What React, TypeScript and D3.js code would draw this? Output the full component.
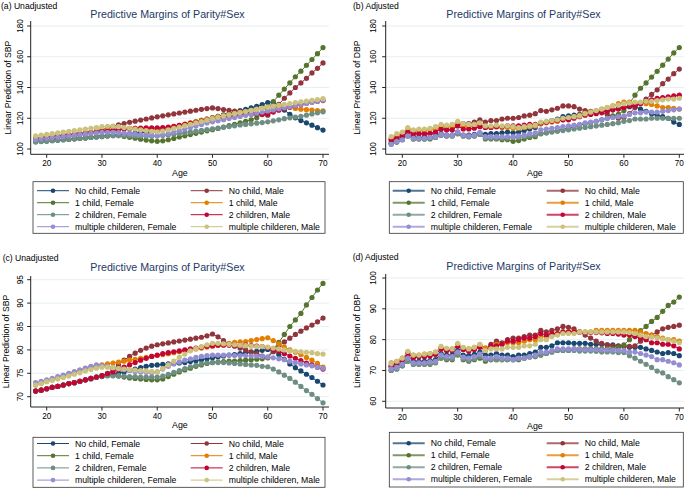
import React from 'react';
import * as d3 from 'd3';

const AGES = [18, 19, 20, 21, 22, 23, 24, 25, 26, 27, 28, 29, 30, 31, 32, 33, 34, 35, 36, 37, 38, 39, 40, 41, 42, 43, 44,
  45, 46, 47, 48, 49, 50, 51, 52, 53, 54, 55, 56, 57, 58, 59, 60, 61, 62, 63, 64, 65, 66, 67, 68, 69, 70];

const SERIES = ['No child, Female', 'No child, Male', '1 child, Female', '1 child, Male',
  '2 children, Female', '2 children, Male', 'multiple childeren, Female', 'multiple childeren, Male'];
const COLORS = ['#1a476f', '#90353b', '#55752f', '#e37e00', '#6e8e84', '#c10534', '#938dd2', '#cac27e'];

const X_TICKS = [20, 30, 40, 50, 60, 70];
const SBP_TICKS = [100, 120, 140, 160, 180];
const C_TICKS = [70, 75, 80, 85, 90, 95];
const D_TICKS = [60, 70, 80, 90, 100];

// (a) unadjusted
const A_NF = [105.0, 105.2, 105.4, 105.6, 105.8, 106.0, 106.3, 106.6, 106.9, 107.2,
  107.5, 107.8, 108.1, 108.5, 108.9, 109.3, 109.7, 110.0, 110.3, 110.6,
  110.9, 111.2, 111.5, 112.3, 113.2, 114.1, 115.0, 115.9, 116.8, 117.7,
  118.6, 119.5, 120.4, 121.3, 122.2, 123.1, 124.0, 124.9, 125.8, 126.8,
  127.8, 128.9, 130.2, 130.4, 128.0, 125.3, 122.6, 120.3, 118.5, 117.0,
  115.5, 113.9, 112.3];
const A_NM = [106.0, 106.4, 106.8, 107.2, 107.6, 108.0, 108.4, 108.9, 109.4, 110.0,
  110.7, 111.5, 112.5, 113.6, 114.7, 115.7, 116.6, 117.4, 118.1, 118.8,
  119.5, 120.2, 120.9, 121.6, 122.2, 122.8, 123.4, 124.0, 124.6, 125.2,
  125.8, 126.3, 126.7, 126.3, 125.7, 125.2, 124.7, 124.3, 123.9, 123.5,
  123.0, 122.4, 122.0, 125.0, 129.0, 133.0, 136.5, 140.0, 143.0, 146.0,
  149.5, 152.5, 156.0];
const A_1F = [104.8, 105.0, 105.2, 105.5, 105.8, 106.1, 106.4, 106.7, 107.0, 107.3,
  107.7, 108.1, 108.5, 108.8, 108.9, 108.7, 108.2, 107.6, 107.0, 106.4,
  105.8, 105.3, 105.0, 105.3, 106.0, 106.9, 107.8, 108.6, 109.4, 110.2,
  111.0, 111.8, 112.6, 113.4, 114.3, 115.2, 116.1, 117.0, 118.0, 119.0,
  120.3, 122.8, 126.2, 130.8, 135.0, 139.0, 143.0, 147.0, 150.6, 154.4,
  158.2, 162.0, 166.0];
const A_1M = [107.0, 107.5, 108.0, 108.4, 108.8, 109.2, 109.6, 110.0, 110.4, 110.8,
  111.2, 111.6, 112.0, 112.4, 112.8, 113.1, 113.3, 113.4, 113.4, 113.3,
  113.2, 113.1, 113.1, 113.4, 113.9, 114.6, 115.4, 116.2, 117.0, 117.8,
  118.6, 119.4, 120.2, 121.0, 121.7, 122.4, 123.1, 123.8, 124.5, 125.2,
  125.9, 126.6, 127.3, 127.8, 128.0, 127.6, 127.0, 126.4, 125.9, 125.6,
  125.3, 125.0, 124.8];
const A_2F = [104.5, 104.8, 105.1, 105.4, 105.7, 106.0, 106.3, 106.6, 106.9, 107.2,
  107.5, 107.8, 108.1, 108.4, 108.6, 108.7, 108.7, 108.6, 108.5, 108.4,
  108.3, 108.3, 108.4, 108.7, 109.1, 109.6, 110.1, 110.6, 111.1, 111.6,
  112.1, 112.6, 113.1, 113.6, 114.1, 114.6, 115.1, 115.6, 116.0, 116.4,
  116.8, 117.2, 117.7, 118.3, 119.0, 119.7, 120.3, 120.8, 121.3, 122.0,
  122.8, 123.5, 124.2];
const A_2M = [106.8, 107.1, 107.4, 107.8, 108.2, 108.6, 109.0, 109.4, 109.8, 110.2,
  110.6, 111.0, 111.4, 111.8, 112.2, 112.6, 113.0, 113.3, 113.5, 113.6,
  113.7, 113.7, 113.7, 113.9, 114.3, 114.8, 115.4, 116.0, 116.7, 117.4,
  118.1, 118.8, 119.5, 120.1, 120.7, 121.2, 121.7, 122.1, 122.4, 122.6,
  122.7, 122.8, 123.0, 124.0, 125.2, 126.3, 127.3, 128.2, 129.0, 129.8,
  130.5, 131.0, 131.5];
const A_MF = [106.2, 106.6, 107.0, 107.4, 107.8, 108.2, 108.6, 109.0, 109.4, 109.8,
  110.2, 110.5, 110.8, 110.9, 110.8, 110.6, 110.3, 110.0, 109.7, 109.4,
  109.1, 108.9, 108.8, 109.2, 110.0, 111.0, 112.0, 113.0, 114.0, 115.0,
  116.0, 116.9, 117.7, 118.4, 119.1, 119.8, 120.5, 121.2, 121.9, 122.6,
  123.3, 124.0, 124.7, 125.4, 126.1, 126.8, 127.5, 128.2, 128.9, 129.6,
  130.3, 131.0, 131.7];
const A_MM = [108.5, 109.0, 109.5, 110.0, 110.5, 111.0, 111.5, 112.0, 112.5, 113.0,
  113.5, 114.0, 114.5, 114.8, 114.8, 114.5, 114.0, 113.5, 113.0, 112.5,
  112.0, 111.5, 111.2, 111.7, 112.5, 113.4, 114.3, 115.2, 116.1, 117.0,
  117.9, 118.8, 119.7, 120.6, 121.4, 122.2, 123.0, 123.7, 124.4, 125.1,
  125.8, 126.5, 127.2, 127.8, 128.4, 129.0, 129.6, 130.2, 130.7, 131.2,
  131.7, 132.2, 132.7];

// (b) adjusted
const B_NF = [104.0, 105.5, 106.5, 109.0, 107.5, 107.5, 107.5, 107.5, 108.5, 110.0,
  109.0, 109.0, 111.0, 109.0, 109.0, 109.5, 110.5, 109.5, 110.0, 110.0,
  110.5, 111.0, 110.5, 111.0, 112.0, 113.0, 114.0, 116.5, 117.5, 118.5,
  119.5, 121.0, 121.5, 122.0, 122.5, 123.5, 123.5, 124.0, 124.5, 125.0,
  125.5, 126.5, 127.0, 127.5, 127.5, 126.0, 124.5, 123.0, 122.0, 121.0,
  120.0, 117.5, 116.0];
const B_NM = [106.0, 107.0, 108.5, 111.0, 110.0, 110.0, 110.0, 110.0, 111.0, 113.0,
  112.5, 112.5, 115.5, 116.5, 116.5, 117.5, 119.0, 117.5, 118.5, 118.5,
  119.5, 120.0, 120.0, 120.5, 121.5, 122.0, 123.0, 125.0, 124.5, 125.5,
  126.5, 128.0, 128.0, 127.5, 126.0, 125.0, 124.5, 124.0, 123.5, 122.5,
  121.0, 120.0, 120.5, 123.0, 127.0, 130.0, 132.5, 135.5, 138.5, 142.5,
  145.5, 149.0, 152.0];
const B_1F = [103.5, 104.5, 106.0, 108.5, 106.5, 106.5, 106.5, 106.5, 107.5, 109.0,
  108.5, 108.5, 110.0, 108.5, 108.0, 108.5, 109.5, 106.5, 106.5, 106.5,
  106.0, 106.0, 105.0, 105.5, 106.5, 107.5, 108.0, 110.0, 110.5, 111.5,
  112.0, 113.0, 113.5, 114.5, 115.5, 116.5, 117.0, 118.0, 119.0, 120.0,
  121.5, 122.5, 125.0, 129.5, 135.0, 139.5, 143.0, 146.8, 150.5, 154.5,
  158.5, 162.5, 166.0];
const B_1M = [107.0, 108.5, 110.0, 113.0, 111.5, 112.0, 112.0, 112.5, 113.5, 115.0,
  114.5, 114.5, 117.0, 115.0, 114.5, 115.0, 116.0, 114.0, 114.0, 114.5,
  114.0, 114.0, 113.5, 113.5, 114.0, 114.5, 115.0, 116.5, 117.0, 117.5,
  118.0, 119.0, 120.0, 121.0, 122.0, 123.0, 124.0, 125.0, 126.0, 127.0,
  128.0, 129.5, 130.5, 130.5, 130.0, 130.0, 129.5, 129.0, 128.0, 127.0,
  127.0, 126.5, 126.0];
const B_2F = [103.5, 104.5, 106.0, 108.5, 106.5, 106.5, 106.5, 107.0, 107.5, 109.0,
  108.5, 108.5, 110.0, 108.5, 108.0, 108.5, 109.5, 107.0, 107.0, 107.0,
  107.0, 107.0, 107.5, 107.5, 108.0, 108.5, 109.0, 110.0, 110.5, 111.0,
  111.5, 112.0, 112.5, 113.0, 113.5, 114.0, 114.5, 115.0, 115.5, 116.0,
  116.5, 117.0, 118.0, 118.5, 119.5, 119.5, 119.5, 120.0, 120.0, 120.0,
  120.0, 120.0, 120.0];
const B_2M = [106.0, 107.0, 108.5, 111.0, 110.0, 110.0, 110.0, 110.0, 111.0, 113.0,
  112.5, 112.5, 115.0, 113.0, 113.0, 113.5, 114.5, 114.0, 114.0, 114.5,
  114.5, 115.0, 115.0, 115.0, 115.5, 116.0, 116.0, 117.0, 117.5, 118.0,
  118.5, 119.0, 119.0, 120.0, 121.0, 122.0, 122.5, 123.0, 124.0, 124.5,
  125.5, 126.0, 127.0, 128.0, 128.5, 129.5, 131.0, 132.0, 133.0, 133.5,
  134.0, 134.5, 135.0];
const B_MF = [103.0, 105.0, 106.0, 108.5, 107.0, 107.0, 107.0, 107.5, 108.0, 109.5,
  109.0, 109.0, 111.0, 109.0, 108.5, 109.0, 110.5, 108.0, 108.0, 108.0,
  108.0, 108.0, 108.0, 108.5, 109.0, 110.0, 110.5, 112.5, 113.0, 113.5,
  114.0, 114.5, 115.0, 115.5, 116.0, 117.0, 117.5, 118.0, 119.0, 120.0,
  120.5, 121.0, 121.5, 122.5, 123.5, 123.5, 124.0, 124.0, 124.0, 124.5,
  125.0, 125.5, 126.0];
const B_MM = [108.0, 110.0, 111.0, 114.0, 112.5, 113.0, 113.0, 113.5, 114.5, 116.0,
  115.5, 116.0, 118.0, 116.5, 116.0, 116.0, 117.0, 115.0, 115.0, 115.5,
  115.0, 115.0, 114.5, 114.0, 114.5, 115.0, 115.5, 117.5, 118.0, 118.5,
  119.0, 120.0, 120.5, 121.0, 121.5, 123.0, 124.0, 125.0, 126.0, 127.0,
  128.0, 128.5, 129.5, 130.0, 130.5, 130.5, 131.0, 131.0, 131.5, 132.0,
  132.5, 132.5, 133.0];

// (c) unadjusted
const C_NF = [71.2, 71.4, 71.7, 72.0, 72.2, 72.5, 72.8, 73.0, 73.3, 73.6,
  73.8, 74.1, 74.3, 74.6, 74.8, 75.0, 75.3, 75.6, 75.9, 76.2,
  76.5, 76.7, 76.8, 76.9, 77.0, 77.1, 77.2, 77.3, 77.5, 77.7,
  77.9, 78.1, 78.3, 78.5, 78.7, 78.9, 79.0, 79.2, 79.4, 79.5,
  79.7, 79.9, 80.1, 79.8, 79.0, 78.0, 77.0, 76.2, 75.5, 74.8,
  74.1, 73.3, 72.5];
const C_NM = [71.2, 71.4, 71.7, 72.0, 72.2, 72.5, 72.8, 73.0, 73.3, 73.6,
  73.9, 74.2, 74.5, 75.0, 75.8, 76.8, 77.8, 78.6, 79.3, 79.9,
  80.4, 80.8, 81.1, 81.3, 81.5, 81.7, 81.9, 82.1, 82.3, 82.5,
  82.7, 83.0, 83.4, 82.8, 82.0, 81.3, 80.8, 80.4, 80.0, 79.6,
  79.2, 78.7, 78.3, 79.6, 80.8, 81.7, 82.5, 83.3, 84.0, 84.7,
  85.3, 86.0, 86.8];
const C_1F = [71.2, 71.4, 71.7, 72.0, 72.2, 72.5, 72.8, 73.0, 73.3, 73.6,
  73.9, 74.2, 74.4, 74.5, 74.5, 74.4, 74.2, 74.0, 73.9, 73.8,
  73.7, 73.6, 73.6, 73.8, 74.3, 74.8, 75.3, 75.7, 76.1, 76.5,
  76.8, 77.1, 77.3, 77.4, 77.5, 77.6, 77.6, 77.7, 77.8, 77.9,
  78.0, 78.1, 78.4, 80.2, 81.6, 83.3, 85.0, 86.4, 87.8, 89.6,
  91.2, 92.8, 94.2];
const C_1M = [72.5, 72.9, 73.3, 73.7, 74.1, 74.5, 74.9, 75.3, 75.7, 76.0,
  76.3, 76.6, 76.8, 77.0, 77.2, 77.4, 77.6, 77.8, 78.0, 78.2,
  78.4, 78.6, 78.8, 79.0, 79.2, 79.4, 79.6, 79.8, 80.0, 80.2,
  80.4, 80.6, 80.8, 81.0, 81.2, 81.4, 81.6, 81.7, 81.8, 82.0,
  82.2, 82.4, 82.6, 82.0, 81.3, 80.6, 80.0, 79.5, 79.0, 78.4,
  77.8, 77.1, 76.3];
const C_2F = [71.2, 71.4, 71.7, 72.0, 72.2, 72.5, 72.8, 73.0, 73.3, 73.6,
  73.9, 74.2, 74.4, 74.5, 74.5, 74.5, 74.4, 74.3, 74.3, 74.2,
  74.2, 74.2, 74.2, 74.4, 74.8, 75.2, 75.6, 76.0, 76.4, 76.7,
  77.0, 77.2, 77.3, 77.3, 77.3, 77.2, 77.1, 77.0, 76.9, 76.8,
  76.7, 76.5, 76.4, 75.9, 75.3, 74.6, 73.9, 73.1, 72.2, 71.3,
  70.5, 69.6, 68.7];
const C_2M = [71.2, 71.4, 71.7, 72.0, 72.2, 72.5, 72.8, 73.0, 73.3, 73.6,
  73.9, 74.2, 74.5, 74.9, 75.3, 75.8, 76.3, 76.8, 77.3, 77.8,
  78.2, 78.6, 78.9, 79.2, 79.4, 79.6, 79.8, 80.0, 80.2, 80.4,
  80.6, 80.8, 80.9, 81.0, 81.0, 81.0, 81.0, 81.0, 81.0, 80.9,
  80.8, 80.7, 80.5, 80.1, 79.7, 79.2, 78.7, 78.2, 77.7, 77.2,
  76.8, 76.3, 75.9];
const C_MF = [73.0, 73.3, 73.6, 73.9, 74.3, 74.6, 75.0, 75.3, 75.7, 76.1,
  76.5, 76.8, 76.7, 76.5, 76.2, 76.0, 75.8, 75.6, 75.4, 75.3,
  75.2, 75.1, 75.3, 75.9, 76.5, 77.0, 77.4, 77.8, 78.1, 78.4,
  78.6, 78.8, 78.9, 78.9, 78.9, 78.9, 78.8, 78.8, 78.8, 78.7,
  78.7, 78.6, 78.5, 78.3, 78.1, 77.9, 77.6, 77.3, 77.0, 76.8,
  76.6, 76.3, 76.1];
const C_MM = [72.5, 72.8, 73.2, 73.5, 73.8, 74.1, 74.4, 74.8, 75.1, 75.5,
  75.8, 76.1, 76.3, 76.3, 76.2, 76.0, 75.9, 75.8, 75.7, 75.6,
  75.5, 75.4, 75.3, 76.0, 76.8, 77.6, 78.4, 79.1, 79.8, 80.3,
  80.7, 81.1, 81.4, 81.4, 81.3, 81.2, 81.1, 81.0, 80.9, 80.8,
  80.7, 80.7, 80.6, 80.4, 80.2, 80.0, 79.8, 79.7, 79.6, 79.5,
  79.4, 79.2, 79.1];

// (d) adjusted
const D_NF = [71.0, 71.5, 72.5, 74.5, 73.0, 73.0, 73.0, 73.2, 73.5, 75.5,
  75.0, 75.0, 76.5, 75.0, 74.8, 75.2, 76.0, 75.0, 75.0, 75.5,
  75.0, 75.0, 74.5, 75.0, 75.0, 75.5, 76.0, 77.5, 77.5, 78.0,
  79.0, 79.0, 79.0, 78.8, 78.8, 78.8, 78.5, 78.5, 78.5, 78.3,
  78.3, 78.0, 78.0, 77.5, 77.5, 77.5, 77.0, 76.5, 76.0, 75.5,
  75.8, 75.5, 74.8];
const D_NM = [71.5, 72.5, 73.5, 75.5, 74.2, 74.5, 74.5, 74.8, 75.3, 77.0,
  76.5, 76.5, 78.0, 76.8, 76.5, 77.0, 77.8, 77.0, 78.5, 79.5,
  79.0, 80.0, 80.5, 80.5, 81.0, 81.5, 81.5, 83.0, 82.5, 83.0,
  83.5, 84.3, 84.0, 83.5, 82.5, 81.5, 80.5, 79.5, 78.8, 78.3,
  78.0, 77.8, 77.7, 77.8, 78.0, 79.5, 80.5, 81.5, 82.5, 83.5,
  84.0, 84.3, 84.7];
const D_1F = [70.0, 70.5, 71.5, 73.0, 72.0, 72.0, 72.0, 72.0, 72.5, 74.0,
  73.5, 73.5, 75.0, 73.5, 73.0, 73.5, 74.0, 73.0, 73.5, 73.5,
  73.5, 73.5, 73.5, 73.5, 74.0, 74.5, 74.5, 75.0, 75.5, 76.0,
  76.5, 76.5, 76.5, 77.0, 77.0, 77.0, 77.0, 77.0, 77.0, 77.0,
  77.0, 77.5, 78.3, 80.0, 81.4, 82.9, 84.3, 85.9, 87.2, 89.2,
  91.1, 92.2, 93.8];
const D_1M = [72.5, 73.0, 74.0, 76.0, 75.0, 75.0, 75.3, 75.5, 76.0, 77.5,
  77.0, 77.0, 78.5, 77.3, 77.0, 77.5, 78.3, 77.3, 77.5, 78.5,
  78.5, 79.0, 79.0, 79.0, 79.5, 80.0, 80.0, 81.0, 81.0, 81.5,
  82.0, 82.5, 82.5, 82.5, 82.5, 82.5, 82.5, 83.0, 83.0, 83.0,
  83.0, 83.0, 83.0, 83.0, 83.0, 82.5, 82.0, 81.5, 81.0, 80.5,
  80.0, 80.0, 79.5];
const D_2F = [70.0, 70.5, 71.5, 73.0, 72.0, 72.0, 72.0, 72.2, 72.5, 74.2,
  73.8, 73.8, 75.2, 73.8, 73.3, 73.8, 74.5, 73.5, 73.5, 73.5,
  73.5, 73.5, 73.5, 73.8, 74.0, 74.3, 74.5, 75.0, 75.5, 76.0,
  76.5, 76.5, 76.5, 76.5, 76.3, 76.3, 76.3, 76.2, 76.0, 76.0,
  76.0, 75.8, 75.8, 74.8, 74.0, 73.0, 72.0, 71.0, 69.8, 69.2,
  68.0, 67.0, 66.0];
const D_2M = [71.5, 72.5, 73.5, 75.5, 74.2, 74.5, 74.5, 74.8, 75.3, 77.0,
  76.5, 76.5, 78.0, 76.8, 76.3, 76.8, 77.5, 76.5, 78.0, 78.0,
  78.5, 79.5, 79.5, 80.0, 80.5, 80.5, 81.0, 82.0, 81.5, 82.0,
  82.0, 82.5, 82.5, 82.5, 82.5, 82.3, 82.3, 82.3, 82.2, 82.0,
  82.0, 81.8, 81.5, 81.5, 81.0, 80.5, 80.0, 79.0, 79.0, 78.5,
  78.5, 78.0, 77.0];
const D_MF = [70.5, 71.0, 72.0, 74.0, 72.5, 72.5, 72.5, 72.8, 73.0, 75.0,
  74.5, 74.5, 76.0, 74.3, 74.0, 74.5, 75.3, 74.0, 74.0, 74.5,
  74.0, 74.0, 73.5, 74.0, 74.0, 74.5, 75.0, 76.0, 76.0, 76.5,
  77.0, 77.0, 77.0, 77.0, 77.0, 76.8, 76.8, 76.8, 76.7, 76.7,
  76.6, 76.5, 76.5, 76.0, 76.0, 75.5, 75.0, 74.5, 73.5, 73.5,
  73.0, 72.5, 71.8];
const D_MM = [72.3, 73.0, 74.0, 76.2, 75.0, 75.0, 75.3, 75.5, 76.0, 77.8,
  77.2, 77.0, 78.8, 77.5, 77.0, 77.5, 78.5, 76.5, 77.0, 77.0,
  77.0, 77.5, 77.5, 77.5, 78.0, 78.0, 78.5, 80.0, 80.0, 81.0,
  81.5, 82.0, 82.0, 82.0, 82.5, 82.5, 82.5, 82.5, 82.5, 82.5,
  82.5, 82.5, 82.5, 82.3, 82.0, 81.5, 81.0, 80.8, 80.5, 80.2,
  80.0, 79.5, 79.0];

const FONT = '"Liberation Sans", Arial, sans-serif';

interface PanelCfg {
  label: string; ytitle: string; series: number[][]; yTicks: number[];
  yDomain: [number, number]; yRange: [number, number];
  left: number; right: number; top: number; bottom: number;
  x20: number; x70: number;
  labelX: number; labelY: number; titleX: number; titleY: number;
  yTickX: number; yTitleX: number;
  legend: { x: number; y: number; w: number; h: number; rows: number[]; cols: number[]; thick: boolean };
}

const PANELS: PanelCfg[] = [
  {
    label: '(a) Unadjusted', ytitle: 'Linear Prediction of SBP',
    series: [A_NF, A_NM, A_1F, A_1M, A_2F, A_2M, A_MF, A_MM], yTicks: SBP_TICKS,
    yDomain: [100, 180], yRange: [149, 26], left: 30.7, right: 329, top: 21, bottom: 154.3,
    x20: 46.7, x70: 323, labelX: 1, labelY: 8.5, titleX: 167.5, titleY: 17.5, yTickX: 20.7, yTitleX: 8,
    legend: { x: 33, y: 181.7, w: 292, h: 51.6, rows: [190.7, 202.7, 214.7, 226.7], cols: [37, 190.7], thick: false },
  },
  {
    label: '(b) Adjusted', ytitle: 'Linear Prediction of DBP',
    series: [B_NF, B_NM, B_1F, B_1M, B_2F, B_2M, B_MF, B_MM], yTicks: SBP_TICKS,
    yDomain: [100, 180], yRange: [149, 26], left: 385.7, right: 684, top: 21, bottom: 154.3,
    x20: 402.3, x70: 679.3, labelX: 353, labelY: 8.5, titleX: 523.5, titleY: 17.5, yTickX: 373.3, yTitleX: 356.7,
    legend: { x: 389.3, y: 181.7, w: 294, h: 51.6, rows: [190.7, 202.7, 214.7, 226.7], cols: [392.7, 546.7], thick: true },
  },
  {
    label: '(c) Unadjusted', ytitle: 'Linear Prediction of SBP',
    series: [C_NF, C_NM, C_1F, C_1M, C_2F, C_2M, C_MF, C_MM], yTicks: C_TICKS,
    yDomain: [70, 95], yRange: [396.7, 279.7], left: 30.7, right: 329, top: 276, bottom: 407,
    x20: 46.7, x70: 323, labelX: 2.7, labelY: 260.5, titleX: 167.5, titleY: 270.5, yTickX: 20, yTitleX: 6,
    legend: { x: 33, y: 437.3, w: 292, h: 50, rows: [443.5, 455.7, 467.9, 480.1], cols: [37, 190.7], thick: false },
  },
  {
    label: '(d) Adjusted', ytitle: 'Linear Prediction of DBP',
    series: [D_NF, D_NM, D_1F, D_1M, D_2F, D_2M, D_MF, D_MM], yTicks: D_TICKS,
    yDomain: [60, 100], yRange: [401.3, 278], left: 385.7, right: 684, top: 274, bottom: 408,
    x20: 402.3, x70: 679.3, labelX: 352.7, labelY: 260, titleX: 523.5, titleY: 269.5, yTickX: 373.3, yTitleX: 356.7,
    legend: { x: 389.3, y: 432.3, w: 294, h: 54.7, rows: [443.3, 455.3, 467.3, 479.3], cols: [392.7, 546.7], thick: true },
  },
];

const Panel = ({ p }: { p: PanelCfg }) => {
  const x = d3.scaleLinear().domain([20, 70]).range([p.x20, p.x70]);
  const y = d3.scaleLinear().domain(p.yDomain).range(p.yRange);
  const line = d3.line<number>().x((_, i) => x(AGES[i])).y(d => y(d));
  const midY = (p.top + p.bottom) / 2;
  const lg = p.legend;

  return (
    <g fontFamily={FONT}>
      <text x={p.labelX} y={p.labelY} fontSize={8.6} fill="#000">{p.label}</text>
      <text x={p.titleX} y={p.titleY} fontSize={10.7} fill="#1e3a66" textAnchor="middle">
        Predictive Margins of Parity#Sex
      </text>

      {p.yTicks.map(t => (
        <line key={'g' + t} x1={p.left} x2={p.right} y1={y(t)} y2={y(t)} stroke="#e6eff1" strokeWidth={1} />
      ))}

      {p.series.map((vals, si) => (
        <g key={si}>
          <path d={line(vals) || ''} fill="none" stroke={COLORS[si]} strokeWidth={1} />
          {vals.map((v, i) => (
            <circle key={i} cx={x(AGES[i])} cy={y(v)} r={2.6} fill={COLORS[si]} />
          ))}
        </g>
      ))}

      <line x1={p.left} x2={p.left} y1={p.top} y2={p.bottom} stroke="#222" strokeWidth={1} />
      <line x1={p.left} x2={p.right} y1={p.bottom} y2={p.bottom} stroke="#222" strokeWidth={1} />
      {p.yTicks.map(t => (
        <g key={'y' + t}>
          <line x1={p.left - 3.5} x2={p.left} y1={y(t)} y2={y(t)} stroke="#222" />
          <text transform={`translate(${p.yTickX},${y(t)}) rotate(-90)`} textAnchor="middle"
            dominantBaseline="central" fontSize={8.2} fill="#000">{t}</text>
        </g>
      ))}
      {X_TICKS.map(t => (
        <g key={'x' + t}>
          <line x1={x(t)} x2={x(t)} y1={p.bottom} y2={p.bottom + 3.5} stroke="#222" />
          <text x={x(t)} y={p.bottom + 9.2} textAnchor="middle" dominantBaseline="central"
            fontSize={8.2} fill="#000">{t}</text>
        </g>
      ))}
      <text x={(p.left + p.right) / 2} y={p.bottom + 18.2} textAnchor="middle" dominantBaseline="central"
        fontSize={8.8} fill="#000">Age</text>
      <text transform={`translate(${p.yTitleX},${midY}) rotate(-90)`} textAnchor="middle"
        dominantBaseline="central" fontSize={8.6} fill="#000">{p.ytitle}</text>

      <rect x={lg.x} y={lg.y} width={lg.w} height={lg.h} fill="#fff" stroke="#333" strokeWidth={0.8} />
      {SERIES.map((name, si) => {
        const col = lg.cols[si % 2];
        const row = lg.rows[Math.floor(si / 2)];
        return (
          <g key={name}>
            <line x1={col} x2={col + 32} y1={row} y2={row} stroke={COLORS[si]}
              strokeWidth={lg.thick ? 2 : 1} strokeOpacity={lg.thick ? 0.75 : 1} />
            <circle cx={col + 16} cy={row} r={2.3} fill={COLORS[si]} />
            <text x={col + 38} y={row} dominantBaseline="central" fontSize={8.7} fill="#000">{name}</text>
          </g>
        );
      })}
    </g>
  );
};

export default function App() {
  return (
    <svg width={685} height={489} style={{ position: 'fixed', left: 0, top: 0, background: '#fff' }}>
      <rect width={685} height={489} fill="#fff" />
      {PANELS.map(p => <Panel key={p.label} p={p} />)}
    </svg>
  );
}
